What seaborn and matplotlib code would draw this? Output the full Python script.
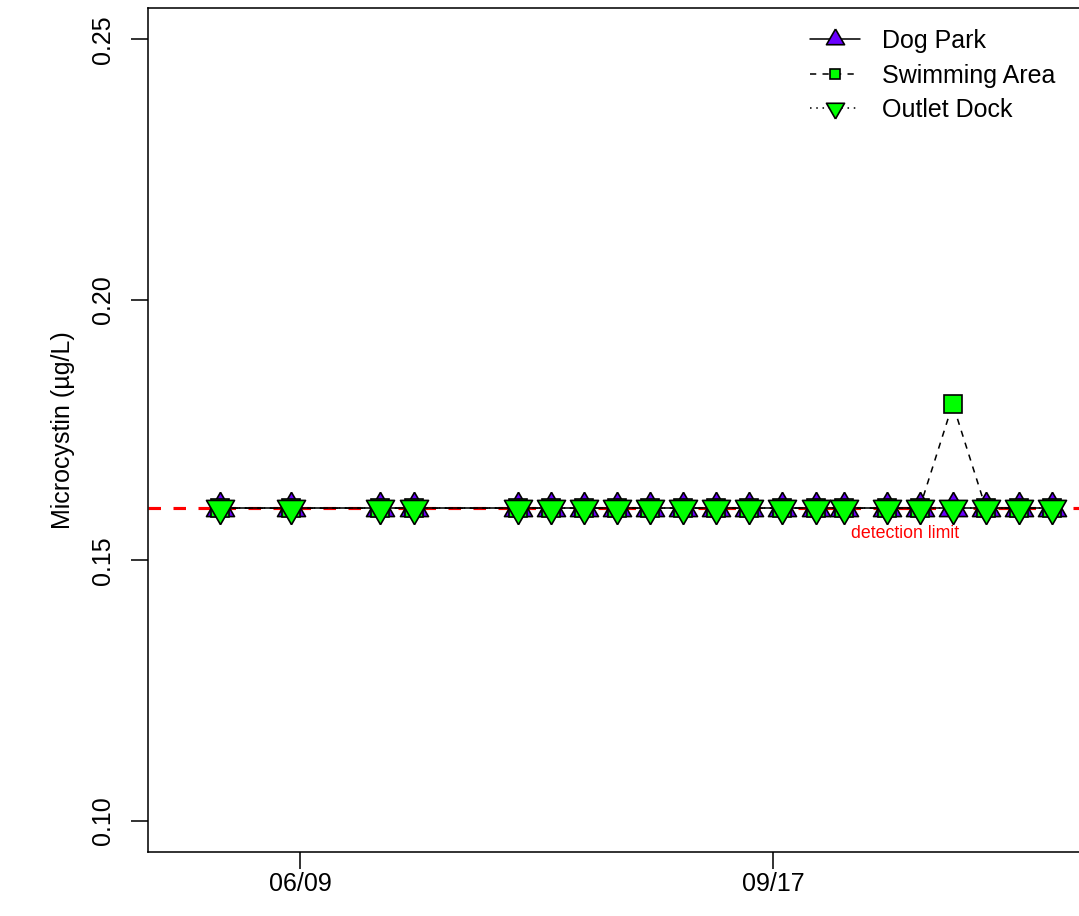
import matplotlib
matplotlib.use("Agg")
import matplotlib.pyplot as plt
from matplotlib.lines import Line2D
import seaborn as sns
import pandas as pd
import numpy as np

# ---- data ----
dates = ["2019-05-23", "2019-06-07", "2019-06-26", "2019-07-03", "2019-07-25",
         "2019-08-01", "2019-08-08", "2019-08-15", "2019-08-22", "2019-08-29",
         "2019-09-05", "2019-09-12", "2019-09-19", "2019-09-26", "2019-10-02",
         "2019-10-11", "2019-10-18", "2019-10-25", "2019-11-01", "2019-11-08",
         "2019-11-15"]
dog_park = [0.16] * 21
swimming_area = [0.16, 0.16, 0.16, 0.16, 0.16, 0.16, 0.16, 0.16, 0.16, 0.16,
                 0.16, 0.16, 0.16, 0.16, 0.16, 0.16, 0.16, 0.18, 0.16, 0.16, 0.16]
outlet_dock = [0.16] * 21
series_names = ["Dog Park", "Swimming Area", "Outlet Dock"]
detection_limit = 0.16
x_tick_dates = ["2019-06-09", "2019-09-17"]
x_tick_labels = ["06/09", "09/17"]
y_ticks = [0.10, 0.15, 0.20, 0.25]
y_tick_labels = ["0.10", "0.15", "0.20", "0.25"]

sns.set_style("ticks")
plt.rcParams["font.family"] = ["Liberation Sans", "DejaVu Sans"]
plt.rcParams["text.color"] = "black"
plt.rcParams["axes.labelcolor"] = "black"
plt.rcParams["xtick.color"] = "black"
plt.rcParams["ytick.color"] = "black"

W, H, DPI = 1079, 916, 150
fig = plt.figure(figsize=(W / DPI, H / DPI), dpi=DPI)
ax = fig.add_axes([148 / W, 64 / H, (1095 - 148) / W, 844 / H])

d = pd.to_datetime(dates)
df = pd.DataFrame({"date": d, "dog": dog_park, "swim": swimming_area, "out": outlet_dock})

# R-style equilateral triangles
tri_up = [(0, 1.5551), (1.3468, -0.7776), (-1.3468, -0.7776), (0, 1.5551)]
tri_down = [(0, -1.5551), (1.3468, 0.7776), (-1.3468, 0.7776), (0, -1.5551)]

purple = "#6a00ff"
green = "#00ff00"

ax.axhline(detection_limit, color="#ff0000", lw=1.5, linestyle=(0, (4, 4)), zorder=1)

common = dict(x="date", data=df, ax=ax, color="black", lw=0.75, legend=False,
              estimator=None, errorbar=None, markeredgecolor="black", markeredgewidth=0.8)
sns.lineplot(y="dog", marker=tri_up, markersize=15.5, markerfacecolor=purple,
             linestyle="-", zorder=2, **common)
sns.lineplot(y="swim", marker="s", markersize=9, markerfacecolor=green,
             linestyle=(0, (4, 4)), zorder=3, **common)
sns.lineplot(y="out", marker=tri_down, markersize=15.5, markerfacecolor=green,
             linestyle=(0, (1, 3)), zorder=4, **common)

x0 = pd.Timestamp("2019-06-09")
ax.set_xlim(x0 + pd.Timedelta(days=-152 / 4.73), x0 + pd.Timedelta(days=(1095 - 300) / 4.73))
ax.set_ylim(0.094, 0.256)

ax.set_xticks(pd.to_datetime(x_tick_dates))
ax.set_xticklabels(x_tick_labels)
ax.set_yticks(y_ticks)
ax.set_yticklabels(y_tick_labels, rotation=90, va="center")
ax.tick_params(axis="both", direction="out", length=8, width=0.75, labelsize=12,
               color="black", labelcolor="black")
ax.tick_params(axis="x", pad=1.5)
ax.tick_params(axis="y", pad=8)
for s in ax.spines.values():
    s.set_linewidth(0.75)
    s.set_color("black")

ax.set_xlabel("")
ax.set_ylabel("Microcystin (\u00b5g/L)", fontsize=12, labelpad=7.5, color="black")

ax.text(pd.Timestamp("2019-10-15"), detection_limit - 0.0032, "detection limit",
        color="#ff0000", fontsize=8.5, ha="center", va="top")

handles = [
    Line2D([], [], color="black", lw=0.75, linestyle="-", marker=tri_up, markersize=10,
           markerfacecolor=purple, markeredgecolor="black", markeredgewidth=0.8),
    Line2D([], [], color="black", lw=0.75, linestyle=(0, (4, 4)), marker="s", markersize=5,
           markerfacecolor=green, markeredgecolor="black", markeredgewidth=0.8),
    Line2D([], [], color="black", lw=0.75, linestyle=(0, (1, 3)), marker=tri_down, markersize=10,
           markerfacecolor=green, markeredgecolor="black", markeredgewidth=0.8),
]
fig.legend(handles, series_names, loc="upper left",
           bbox_to_anchor=(810 / W, (H - 29) / H), frameon=False, fontsize=12,
           borderpad=0, borderaxespad=0, handlelength=2.0, handletextpad=0.9,
           labelspacing=0.42)

fig.savefig("out.png", dpi=DPI)
